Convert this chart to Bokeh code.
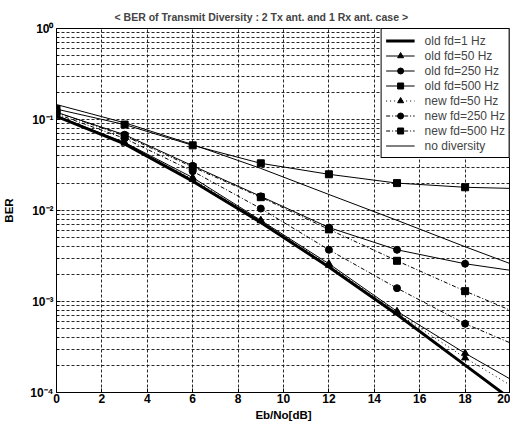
from bokeh.plotting import figure
from bokeh.models import (FixedTicker, CustomJSTickFormatter, Legend, LegendItem, Range1d)
from bokeh.embed import file_html
from bokeh.resources import INLINE

# ---- data ----
snr_db = [0, 3, 6, 9, 12, 15, 18, 20]
marker_db = [0, 3, 6, 9, 12, 15, 18]

old_fd1 = [0.108, 0.054, 0.021, 0.0074, 0.0024, 0.00072, 0.00020, 0.000085]
old_fd50 = [0.110, 0.056, 0.023, 0.0078, 0.0026, 0.00078, 0.00027, 0.00014]
old_fd250 = [0.120, 0.068, 0.031, 0.0143, 0.0065, 0.0037, 0.0026, 0.0022]
old_fd500 = [0.130, 0.088, 0.052, 0.033, 0.025, 0.020, 0.018, 0.0175]
new_fd50 = [0.109, 0.055, 0.022, 0.0077, 0.0025, 0.00075, 0.00024, 0.00012]
new_fd250 = [0.115, 0.062, 0.027, 0.0105, 0.0037, 0.0014, 0.00057, 0.00035]
new_fd500 = [0.120, 0.066, 0.030, 0.0140, 0.0062, 0.0028, 0.0013, 0.0008]
no_div = [0.146, 0.092, 0.053, 0.029, 0.015, 0.0078, 0.0040, 0.0026]

x_ticks = [0, 2, 4, 6, 8, 10, 12, 14, 16, 18, 20]
y_ticks = [1e-4, 1e-3, 1e-2, 1e-1, 1.0]
y_minor = [m * d for d in [1e-4, 1e-3, 1e-2, 1e-1] for m in range(2, 10)]

title_text = "< BER of Transmit Diversity : 2 Tx ant. and 1 Rx ant. case >"
x_label = "Eb/No[dB]"
y_label = "BER"

FONT = "Liberation Sans"

p = figure(width=510, height=424, x_range=Range1d(0, 20), y_range=Range1d(1e-4, 1),
           y_axis_type="log", output_backend="svg", toolbar_location=None,
           min_border_left=55, min_border_right=0, min_border_top=28, min_border_bottom=32,
           background_fill_color="white", border_fill_color="white")

p.title.text = title_text
p.title.text_font = FONT
p.title.text_font_size = "10.5px"
p.title.text_font_style = "bold"
p.title.align = "left"
p.title.offset = 58
p.title.standoff = 12

p.outline_line_color = "black"
p.outline_line_alpha = 1
p.outline_line_width = 1

# axes
p.xaxis.ticker = FixedTicker(ticks=x_ticks)
p.yaxis.ticker = FixedTicker(ticks=y_ticks, minor_ticks=y_minor)
p.yaxis.formatter = CustomJSTickFormatter(code="""
const sup = {'-':'\u207b','0':'\u2070','1':'\u00b9','2':'\u00b2','3':'\u00b3','4':'\u2074'};
const e = Math.round(Math.log10(tick));
return '10' + String(e).split('').map(c => sup[c]).join('');
""")
for ax in (p.xaxis[0], p.yaxis[0]):
    ax.axis_line_color = "black"
    ax.major_tick_in = 4
    ax.major_tick_out = 0
    ax.minor_tick_in = 2
    ax.minor_tick_out = 0
    ax.major_tick_line_color = "black"
    ax.minor_tick_line_color = "black"
    ax.major_label_text_font = FONT
    ax.major_label_text_font_style = "bold"
    ax.major_label_text_font_size = "12px"
    ax.major_label_text_color = "black"
    ax.axis_label_text_font = FONT
    ax.axis_label_text_font_style = "bold"
    ax.axis_label_text_font_size = "11.5px"
    ax.axis_label_text_color = "black"
p.xaxis.minor_tick_line_color = None
p.xaxis.axis_label = x_label
p.yaxis.axis_label = y_label
p.xaxis.major_label_standoff = 1
p.xaxis.axis_label_standoff = 3
p.yaxis.major_label_standoff = 3
p.yaxis.axis_label_standoff = 12

# grid (MATLAB style dotted)
for g in (p.xgrid[0], p.ygrid[0]):
    g.grid_line_color = "#111111"
    g.grid_line_dash = "3 2"
    g.grid_line_width = 1
    g.grid_line_alpha = 0.9
p.ygrid.minor_grid_line_color = "#111111"
p.ygrid.minor_grid_line_dash = "3 2"
p.ygrid.minor_grid_line_alpha = 0.9

C = "black"
items = []

def series(label, ys, dash, width, marker):
    r_line = p.line(snr_db, ys, line_color=C, line_width=width, line_dash=dash)
    rs = [r_line]
    if marker is not None:
        r_m = p.scatter(marker_db, ys[:len(marker_db)], marker=marker, size=7,
                        fill_color=C, line_color=C)
        rs.append(r_m)
    items.append(LegendItem(label=label, renderers=rs))

series("old fd=1 Hz", old_fd1, "solid", 3, None)
series("old fd=50 Hz", old_fd50, "solid", 1, "triangle")
series("old fd=250 Hz", old_fd250, "solid", 1, "circle")
series("old fd=500 Hz", old_fd500, "solid", 1, "square")
series("new fd=50 Hz", new_fd50, "1 3", 1, "triangle")
series("new fd=250 Hz", new_fd250, "4 2 1 2", 1, "circle")
series("new fd=500 Hz", new_fd500, "4 2 1 2", 1, "square")
series("no diversity", no_div, "solid", 1, None)

legend = Legend(items=items, location="top_right", margin=0, padding=4, spacing=0,
                label_height=15, glyph_height=15, glyph_width=29, label_standoff=10,
                label_text_font=FONT, label_text_font_size="12px",
                border_line_color="black", border_line_width=1, border_line_alpha=1,
                background_fill_color="white", background_fill_alpha=1)
p.add_layout(legend)

open("out.html", "w").write(file_html(p, INLINE))
